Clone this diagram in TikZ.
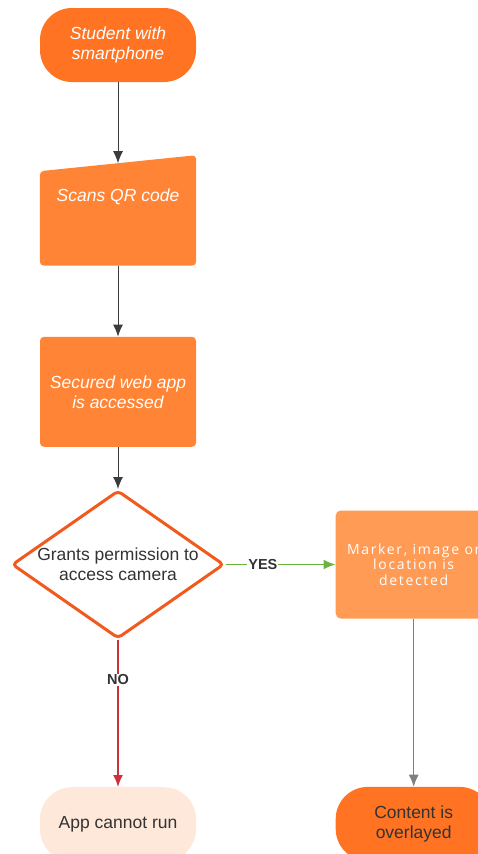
\documentclass[tikz,border=0pt]{standalone}
\usepackage{fontspec}
\setmainfont{Liberation Sans}
\newfontfamily\spacedfont[LetterSpace=12]{Open Sans}
\usepackage{tikz}
\usetikzlibrary{positioning,shapes.geometric,arrows.meta,backgrounds}

\definecolor{startfill}{HTML}{FF7322}
\definecolor{boxfill}{HTML}{FF8436}
\definecolor{markfill}{HTML}{FF9B55}
\definecolor{appfill}{HTML}{FDE8DA}
\definecolor{diamline}{HTML}{F25A1D}
\definecolor{textdark}{HTML}{333333}
\definecolor{yesgreen}{HTML}{6DB33F}
\definecolor{nored}{HTML}{CF2F3A}
\definecolor{arrgray}{HTML}{3C3C3C}

\tikzset{
  term/.style={rectangle, rounded corners=32pt, minimum width=156pt, minimum height=74pt,
    align=center, font=\fontsize{17.5}{20}\selectfont},
  procbox/.style={rectangle, rounded corners=4pt, fill=boxfill, minimum width=156pt, minimum height=110pt,
    align=center, text=white, font=\fontsize{17.5}{20}\selectfont\itshape},
  inputbox/.style={rectangle, minimum width=156pt, inner sep=0pt, text height=46pt, text depth=64pt,
    text=white, font=\fontsize{17.5}{20}\selectfont\itshape},
  decision/.style={diamond, aspect=1.43, inner sep=0pt, minimum width=212pt, minimum height=148pt,
    draw=diamline, line width=3pt, rounded corners=4pt, fill=white, align=center, text=textdark,
    font=\fontsize{17.5}{20}\selectfont},
  markbox/.style={rectangle, rounded corners=5pt, fill=markfill, minimum width=156pt, minimum height=108pt,
    align=center, text=white, font=\fontsize{14}{15.5}\selectfont\spacedfont},
  arr/.style={draw=arrgray, line width=1pt, -{Latex[length=12pt,width=10pt]}},
  lbl/.style={fill=white, inner sep=1pt, text=textdark, font=\fontsize{14.5}{15}\selectfont\bfseries}
}

\begin{document}
\begin{tikzpicture}[x=1pt,y=1pt]
  \useasboundingbox (0,0) rectangle (478,-854);

  \node[term, fill=startfill, text=white, font=\fontsize{17.5}{20}\selectfont\itshape] (student) at (118,-45) {Student with\\smartphone};
  \node[inputbox, below=73pt of student]       (scan) {Scans QR code};
  \node[procbox, below=71pt of scan]           (web) {Secured web app\\is accessed};
  \node[decision, below=42pt of web]           (perm) {Grants permission to\\access camera};
  \node[markbox, right=110pt of perm]          (marker) {Marker, image or\\location is\\detected};
  \node[term, fill=appfill, text=textdark, below=147pt of perm]   (app) {App cannot run};
  \node[term, fill=startfill, text=textdark, below=168pt of marker] (content) {Content is\\overlayed};

  \begin{scope}[on background layer]
    \fill[boxfill, rounded corners=4pt] (scan.south west) -- ([yshift=-16pt]scan.north west)
      -- (scan.north east) -- (scan.south east) -- cycle;
  \end{scope}

  \draw[arr] (student) -- ([yshift=-8pt]scan.north);
  \draw[arr] (scan) -- (web);
  \draw[arr] (web) -- (perm);
  \draw[arr, draw=yesgreen, line width=1.6pt, -{Latex[length=12pt,width=10pt,fill=yesgreen]}] (perm) -- node[lbl, pos=0.34] {YES} (marker);
  \draw[arr, draw=nored, line width=1.6pt, -{Latex[length=12pt,width=10pt,fill=nored]}] (perm) -- node[lbl, pos=0.27] {NO} (app);
  \draw[arr, draw=gray] (marker) -- (content);
\end{tikzpicture}
\end{document}
